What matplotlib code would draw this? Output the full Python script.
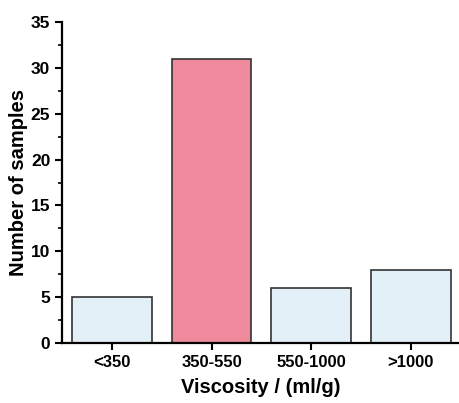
import matplotlib.pyplot as plt
import numpy as np

# data
categories = ["<350", "350-550", "550-1000", ">1000"]
counts = [5, 31, 6, 8]
bar_colors = ["#E4F0F8", "#EE8A9C", "#E4F0F8", "#E4F0F8"]

plt.rcParams['font.family'] = ['Liberation Sans', 'DejaVu Sans']
plt.rcParams['font.weight'] = 'bold'

fig = plt.figure(figsize=(4.6, 4.03), dpi=100)
ax = fig.add_axes([0.135, 0.149, 0.862, 0.796])

x = np.arange(len(categories))
ax.bar(x, counts, width=0.8, color=bar_colors, edgecolor="#333333", linewidth=1.2)

ax.set_xlim(-0.5, 3.48)
ax.set_ylim(0, 35)
ax.set_yticks(np.arange(0, 36, 5))
ax.set_yticks(np.arange(0, 35, 2.5), minor=True)
ax.set_xticks(x)
ax.set_xticklabels(categories)

for s in ["top", "right"]:
    ax.spines[s].set_visible(False)
for s in ["left", "bottom"]:
    ax.spines[s].set_linewidth(1.6)

ax.tick_params(axis="both", which="major", length=5, width=1.5, labelsize=12.5)
ax.tick_params(axis="x", labelsize=12)
ax.tick_params(axis="y", which="minor", length=3, width=1.2)
ax.tick_params(axis="x", which="minor", bottom=False)

ax.set_xlabel("Viscosity / (ml/g)", fontsize=14.5, fontweight="bold", labelpad=6)
ax.set_ylabel("Number of samples", fontsize=14.5, fontweight="bold", labelpad=2)

fig.savefig("out.png", dpi=100)
